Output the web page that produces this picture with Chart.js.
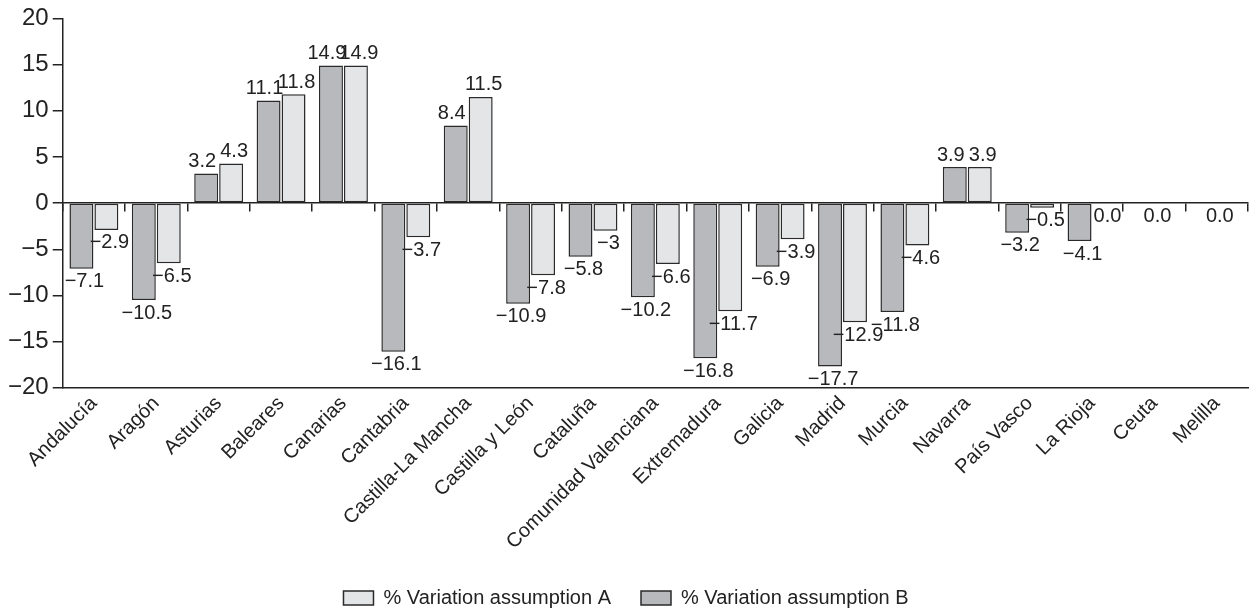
<!DOCTYPE html>
<html>
<head>
<meta charset="utf-8">
<script src="https://cdn.jsdelivr.net/npm/chart.js@4/dist/chart.umd.min.js"></script>
<style>
  html, body { margin: 0; padding: 0; background: #fff; }
  #wrap { width: 1252px; height: 612px; }
</style>
</head>
<body>
<div id="wrap"><canvas id="chart"></canvas></div>
<script>
var regions = ['Andalucía', 'Aragón', 'Asturias', 'Baleares', 'Canarias', 'Cantabria',
   'Castilla-La Mancha', 'Castilla y León', 'Cataluña', 'Comunidad Valenciana', 'Extremadura',
   'Galicia', 'Madrid', 'Murcia', 'Navarra', 'País Vasco', 'La Rioja', 'Ceuta', 'Melilla'];
var variationB = [-7.1, -10.5, 3.2, 11.1, 14.9, -16.1, 8.4, -10.9, -5.8, -10.2, -16.8,
   -6.9, -17.7, -11.8, 3.9, -3.2, -4.1, 0, 0];
var variationA = [-2.9, -6.5, 4.3, 11.8, 14.9, -3.7, 11.5, -7.8, -3, -6.6, -11.7,
   -3.9, -12.9, -4.6, 3.9, -0.5, 0, 0, 0];
var yTicks = [-20, -15, -10, -5, 0, 5, 10, 15, 20];

var ink = '#222';
Chart.defaults.font.family = '"Liberation Sans", Arial, sans-serif';
Chart.defaults.color = ink;

function minus (v) {
   return String(v).replace('-', '\u2212');
}
function fmt (v) {
   return v === 0 ? '0.0' : minus(v);
}

// value labels above / below each bar
var valueLabels = {
   id: 'valueLabels',
   afterDatasetsDraw: function (chart) {
      var ctx = chart.ctx;
      var metaB = chart.getDatasetMeta(0);
      var metaA = chart.getDatasetMeta(1);
      ctx.save();
      ctx.font = '20px "Liberation Sans", Arial, sans-serif';
      ctx.fillStyle = ink;
      ctx.textAlign = 'center';
      ctx.textBaseline = 'middle';
      var put = function (bar, v, shift) {
         if (v > 0) {
            ctx.fillText(fmt(v), bar.x + shift, bar.y - 12);
         } else {
            ctx.fillText(fmt(v), bar.x + 3, bar.y + 13);
         }
      };
      for (var i = 0; i < regions.length; i++) {
         var barB = metaB.data[i], barA = metaA.data[i];
         if (variationB[i] === 0 && variationA[i] === 0) {
            ctx.fillText('0.0', (barB.x + barA.x) / 2 + 3, barA.y + 13);
         } else {
            put(barB, variationB[i], -4);
            put(barA, variationA[i], 3);
         }
      }
      ctx.restore();
   }
};

new Chart(document.getElementById('chart'), {
   type: 'bar',
   data: {
      labels: regions,
      datasets: [{
         label: '% Variation assumption B',
         data: variationB,
         backgroundColor: '#b8b9bd',
         borderColor: '#2a2a2a',
         borderWidth: 1.5,
         borderSkipped: false,
         categoryPercentage: 0.8,
         barPercentage: 0.96
      }, {
         label: '% Variation assumption A',
         data: variationA,
         backgroundColor: '#e4e5e7',
         borderColor: '#2a2a2a',
         borderWidth: 1.5,
         borderSkipped: false,
         categoryPercentage: 0.8,
         barPercentage: 0.96
      }]
   },
   options: {
      responsive: true,
      maintainAspectRatio: false,
      animation: false,
      layout: { padding: { left: 4, right: 4, top: -2, bottom: -6 } },
      plugins: {
         tooltip: { enabled: false },
         legend: {
            position: 'bottom',
            reverse: true,
            labels: {
               boxWidth: 30,
               boxHeight: 14,
               padding: 30,
               font: { size: 20 },
               color: ink
            }
         }
      },
      scales: {
         x: {
            offset: true,
            grid: { display: false, drawTicks: false },
            border: { display: true, color: ink, width: 1.5 },
            ticks: {
               autoSkip: false,
               maxRotation: 45,
               minRotation: 45,
               padding: 4,
               font: { size: 20 },
               color: ink
            }
         },
         xZero: {
            type: 'category',
            axis: 'x',
            position: { y: 0 },
            offset: true,
            grid: {
               display: true,
               offset: true,
               drawOnChartArea: false,
               drawTicks: true,
               tickLength: 8,
               color: ink,
               lineWidth: 1.5
            },
            border: { display: true, color: ink, width: 1.5 },
            ticks: { display: false }
         },
         y: {
            min: yTicks[0],
            max: yTicks[yTicks.length - 1],
            afterBuildTicks: function (scale) {
               scale.ticks = yTicks.map(function (v) { return { value: v }; });
            },
            grid: {
               drawOnChartArea: false,
               drawTicks: true,
               tickLength: 10,
               color: ink,
               lineWidth: 1.5
            },
            border: { display: true, color: ink, width: 1.5 },
            ticks: {
               padding: 4,
               font: { size: 24 },
               color: ink,
               callback: function (v) { return minus(v); }
            }
         }
      }
   },
   plugins: [valueLabels]
});
</script>
</body>
</html>
